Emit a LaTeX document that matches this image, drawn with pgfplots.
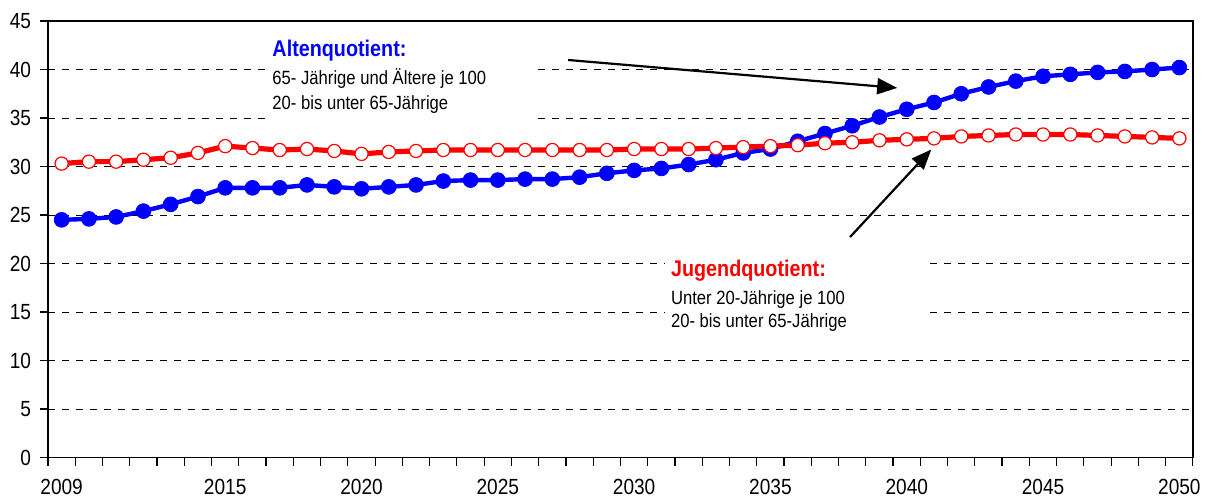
\documentclass[border=0pt]{standalone}
\usepackage{fontspec}
\setmainfont{Liberation Sans}[FakeStretch=0.87]
\usepackage{pgfplots}
\pgfplotsset{compat=1.18}
\usepackage{pgfplotstable}
\usetikzlibrary{arrows.meta}

\definecolor{altblue}{RGB}{0,0,255}
\definecolor{jugred}{RGB}{255,0,0}

% year  alten  jugend
\pgfplotstableread{
year alt jug
2009 24.5 30.3
2010 24.6 30.5
2011 24.8 30.5
2012 25.4 30.7
2013 26.1 30.9
2014 26.9 31.4
2015 27.8 32.1
2016 27.8 31.9
2017 27.8 31.7
2018 28.1 31.8
2019 27.9 31.6
2020 27.7 31.3
2021 27.9 31.5
2022 28.1 31.6
2023 28.5 31.7
2024 28.6 31.7
2025 28.6 31.7
2026 28.7 31.7
2027 28.7 31.7
2028 28.9 31.7
2029 29.3 31.7
2030 29.6 31.8
2031 29.8 31.8
2032 30.2 31.8
2033 30.7 31.9
2034 31.4 32.0
2035 31.8 32.1
2036 32.6 32.2
2037 33.4 32.4
2038 34.2 32.5
2039 35.1 32.7
2040 35.9 32.8
2041 36.6 32.9
2042 37.5 33.1
2043 38.2 33.2
2044 38.8 33.3
2045 39.3 33.3
2046 39.5 33.3
2047 39.7 33.2
2048 39.8 33.1
2049 40.0 33.0
2050 40.2 32.9
}\quoten

\begin{document}
\begin{tikzpicture}
\begin{axis}[
  scale only axis,
  width=572.5bp,
  height=218.25bp,
  xmin=2008.5, xmax=2050.5,
  ymin=0, ymax=45,
  xtick={2009,2015,2020,2025,2030,2035,2040,2045,2050},
  minor xtick={2008.5,2009.5,...,2050.5},
  ytick={0,5,...,45},
  major x tick style={draw=none},
  tick align=outside,
  tick pos=left,
  major tick length=4bp,
  minor tick length=4bp,
  tick style={black, line width=0.6bp},
  axis line style={black, line width=0.9bp},
  ymajorgrids,
  major grid style={black, line width=0.45bp, dash pattern=on 3.5bp off 3.5bp},
  xticklabel style={font=\fontsize{11}{12}\selectfont, anchor=north, yshift=-3.5bp},
  yticklabel style={font=\fontsize{11}{12}\selectfont, anchor=east, xshift=-1bp},
  /pgf/number format/assume math mode=true,
  xticklabel={\pgfmathprintnumber[1000 sep={}]{\tick}},
  clip=false,
]

% white boxes behind the annotations
\fill[white] (axis cs:2016.45,43.6) rectangle (axis cs:2026.2,34.6);
\fill[white] (axis cs:2031.15,20.6) rectangle (axis cs:2040.6,12.8);

\addplot[altblue, line width=2.2bp, mark=*, mark size=3.7bp,
  mark options={fill=altblue, draw=altblue, line width=0.4bp}]
  table[x=year, y=alt] {\quoten};

\addplot[jugred, line width=2.6bp, mark=*, mark size=3.3bp,
  mark options={fill=white, draw=jugred, line width=0.6bp}]
  table[x=year, y=jug] {\quoten};

\node[anchor=base west, inner sep=0pt, text=altblue, font=\bfseries\fontsize{11.4}{13}\selectfont]
  at (axis cs:2016.72,41.3) {Altenquotient:};
\node[anchor=base west, inner sep=0pt, font=\fontsize{9.6}{11}\selectfont]
  at (axis cs:2016.72,38.5) {65- Jährige und Ältere je 100};
\node[anchor=base west, inner sep=0pt, font=\fontsize{9.6}{11}\selectfont]
  at (axis cs:2016.72,35.9) {20- bis unter 65-Jährige};

\node[anchor=base west, inner sep=0pt, text=jugred, font=\bfseries\fontsize{11.4}{13}\selectfont]
  at (axis cs:2031.34,18.64) {Jugendquotient:};
\node[anchor=base west, inner sep=0pt, font=\fontsize{9.6}{11}\selectfont]
  at (axis cs:2031.34,15.8) {Unter 20-Jährige je 100};
\node[anchor=base west, inner sep=0pt, font=\fontsize{9.6}{11}\selectfont]
  at (axis cs:2031.34,13.42) {20- bis unter 65-Jährige};

\draw[black, line width=1.1bp, -{Triangle[length=10bp, width=8bp]}]
  (axis cs:2027.58,40.98) -- (axis cs:2039.65,38.1);
\draw[black, line width=1.1bp, -{Triangle[length=10bp, width=8bp]}]
  (axis cs:2037.92,22.73) -- (axis cs:2040.9,31.75);
\end{axis}
\path ([xshift=-24bp,yshift=-21.75bp]current axis.south west)
  rectangle ([xshift=10.5bp,yshift=10.5bp]current axis.north east);
\end{tikzpicture}
\end{document}
